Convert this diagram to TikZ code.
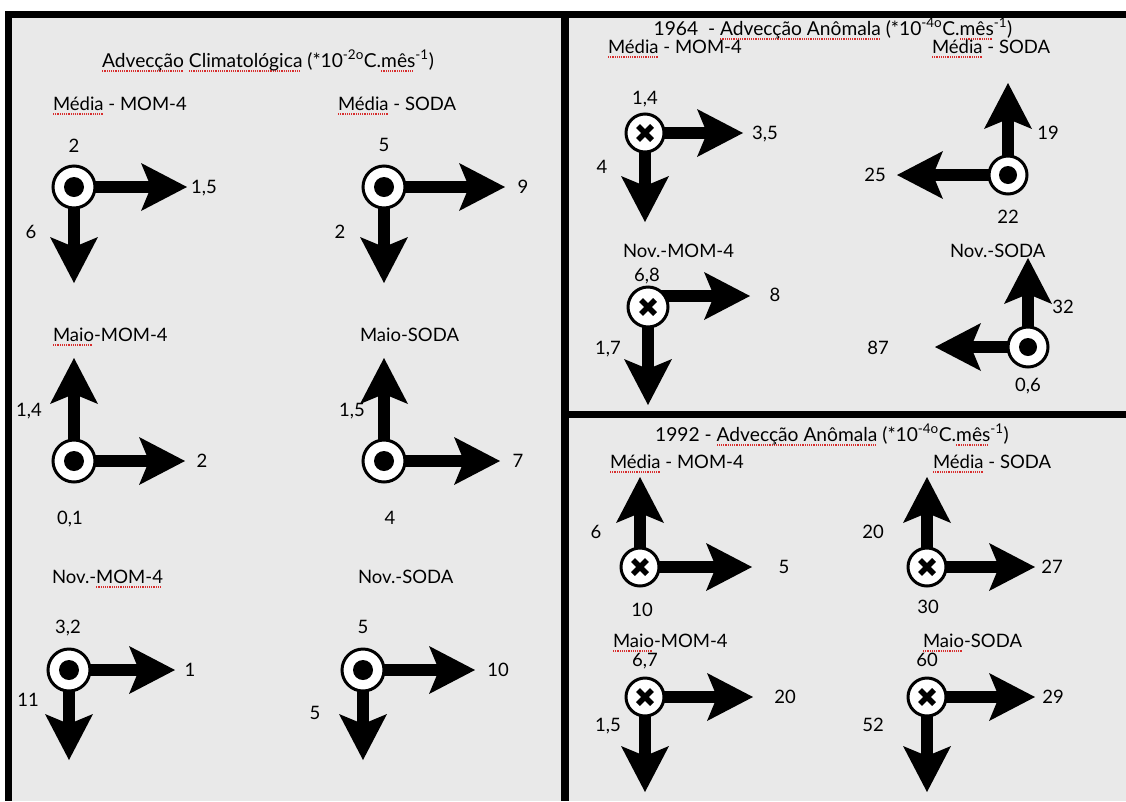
\documentclass[tikz,border=0pt]{standalone}
\usepackage{fontspec}
\setmainfont{Lato}
\usetikzlibrary{arrows.meta}
\definecolor{panel}{RGB}{233,233,233}
\definecolor{spellred}{RGB}{215,45,45}
\newsavebox\splbox
\newcommand\spl[1]{\sbox\splbox{#1}\rlap{\color{spellred}\leaders\hbox{\rule[-4.5pt]{1.2pt}{1.2pt}\kern1pt}\hskip\wd\splbox}\usebox\splbox}
\tikzset{
  lbl/.style={font=\fontsize{18.5}{20}\selectfont, inner sep=0pt, outer sep=0pt},
  ttl/.style={font=\fontsize{19.2}{21}\selectfont, inner sep=0pt, outer sep=0pt, anchor=base},
  num/.style={lbl, text height=13pt, text depth=0pt, anchor=center},
  vec/.style={line width=12pt, -{Stealth[length=46pt,width=48pt,inset=10pt,line width=0pt]}},
  ring/.style={circle, draw, line width=3pt, fill=white, inner sep=0pt},
  bigring/.style={ring, minimum size=42pt},
  smallring/.style={ring, minimum size=38pt},
  dotmark/.style={path picture={\fill[black] (path picture bounding box.center) circle (#1);}},
  xmark/.style={path picture={\draw[black, line width=5.5pt, shift={(path picture bounding box.center)}] (-7pt,-7pt) -- (7pt,7pt) (-7pt,7pt) -- (7pt,-7pt);}}
}
\begin{document}
\begin{tikzpicture}[x=1pt,y=-1pt]
\useasboundingbox (0,0) rectangle (1126,801);
% frame and panels
\fill[white] (0,0) rectangle (1126,801);
\fill[black] (5,11) rectangle (1126,801);
\fill[panel] (12,18) rectangle (561,801);
\fill[panel] (569,18) rectangle (1126,411);
\fill[panel] (569,418) rectangle (1126,801);

% ---------- left panel ----------
\node[ttl] (tL) at (268,67) {\spl{Advecção} \spl{Climatológica} (*10\textsuperscript{-2o}C.\spl{mês}\textsuperscript{-1})};
\node[lbl, anchor=base west] (hL1) at (53,110) {\spl{Média} - MOM-4};
\node[lbl, anchor=base west] (hL2) at (338,110) {\spl{Média} - SODA};
\node[lbl, anchor=base west] (hL3) at (53,341) {\spl{Maio}-MOM-4};
\node[lbl, anchor=base west] (hL4) at (360,341) {Maio-SODA};
\node[lbl, anchor=base west] (hL5) at (52,583) {Nov.-\spl{MOM-4}};
\node[lbl, anchor=base west] (hL6) at (358,583) {Nov.-SODA};

\coordinate (p1) at (74,187); \coordinate (p1e) at (187,187); \coordinate (p1s) at (74,283);
\coordinate (p2) at (384,187); \coordinate (p2e) at (505,187); \coordinate (p2s) at (384,283);
\coordinate (p3) at (74,461); \coordinate (p3n) at (74,358); \coordinate (p3e) at (185,461);
\coordinate (p4) at (384,461); \coordinate (p4n) at (384,358); \coordinate (p4e) at (500,461);
\coordinate (p5) at (69,670); \coordinate (p5e) at (175,670); \coordinate (p5s) at (69,760);
\coordinate (p6) at (363,670); \coordinate (p6e) at (475,670); \coordinate (p6s) at (363,760);

\draw[vec] (p1) -- (p1e); \draw[vec] (p1) -- (p1s);
\draw[vec] (p2) -- (p2e); \draw[vec] (p2) -- (p2s);
\draw[vec] (p3) -- (p3n); \draw[vec] (p3) -- (p3e);
\draw[vec] (p4) -- (p4n); \draw[vec] (p4) -- (p4e);
\draw[vec] (p5) -- (p5e); \draw[vec] (p5) -- (p5s);
\draw[vec] (p6) -- (p6e); \draw[vec] (p6) -- (p6s);

\node[bigring, dotmark=10pt] (c1) at (p1) {};
\node[bigring, dotmark=10pt] (c2) at (p2) {};
\node[bigring, dotmark=10pt] (c3) at (p3) {};
\node[bigring, dotmark=10pt] (c4) at (p4) {};
\node[bigring, dotmark=10pt] (c5) at (p5) {};
\node[bigring, dotmark=10pt] (c6) at (p6) {};

\node[num] (n1a) at (74,146) {2};   \node[num] (n1b) at (204,187) {1,5}; \node[num] (n1c) at (31,232) {6};
\node[num] (n2a) at (384,145) {5};  \node[num] (n2b) at (523,187) {9};   \node[num] (n2c) at (340,232) {2};
\node[num] (n3a) at (29,410) {1,4}; \node[num] (n3b) at (202,461) {2};   \node[num] (n3c) at (70,518) {0,1};
\node[num] (n4a) at (352,410) {1,5};\node[num] (n4b) at (518,461) {7};   \node[num] (n4c) at (390,518) {4};
\node[num] (n5a) at (68,627) {3,2}; \node[num] (n5b) at (190,670) {1};   \node[num] (n5c) at (28,700) {11};
\node[num] (n6a) at (363,627) {5};  \node[num] (n6b) at (498,670) {10};  \node[num] (n6c) at (315,713) {5};

% ---------- right top panel (1964) ----------
\node[ttl] (tR) at (833,35) {1964\ \ - \spl{Advecção Anômala} (*10\textsuperscript{-4o}C.\spl{mês}\textsuperscript{-1})};
\node[lbl, anchor=base west] (hR1) at (608,53) {\spl{Média} - MOM-4};
\node[lbl, anchor=base west] (hR2) at (932,53) {\spl{Média} - SODA};
\node[lbl, anchor=base west] (hR3) at (623,257) {Nov.-MOM-4};
\node[lbl, anchor=base west] (hR4) at (950,257) {Nov.-SODA};

\coordinate (q1) at (645,133); \coordinate (q1e) at (743,133); \coordinate (q1s) at (645,222);
\coordinate (q2) at (1008,175); \coordinate (q2n) at (1008,83); \coordinate (q2w) at (897,175);
\coordinate (q3) at (648,307); \coordinate (q3r) at (648,296); \coordinate (q3e) at (750,296); \coordinate (q3s) at (648,405);
\coordinate (q4) at (1028,347); \coordinate (q4n) at (1028,258); \coordinate (q4w) at (935,347);

\draw[vec] (q1) -- (q1e); \draw[vec] (q1) -- (q1s);
\draw[vec] (q2) -- (q2n); \draw[vec] (q2) -- (q2w);
\draw[vec] (q3r) -- (q3e); \draw[vec] (q3) -- (q3s);
\draw[vec] (q4) -- (q4n); \draw[vec] (q4) -- (q4w);

\node[smallring, xmark] (d1) at (q1) {};
\node[smallring, dotmark=9pt] (d2) at (q2) {};
\node[ring, minimum size=40pt, xmark] (d3) at (q3) {};
\node[ring, minimum size=40pt, dotmark=9pt] (d4) at (q4) {};

\node[num] (m1a) at (645,98) {1,4};  \node[num] (m1b) at (765,133) {3,5}; \node[num] (m1c) at (602,167) {4};
\node[num] (m2a) at (875,175) {25};  \node[num] (m2b) at (1048,133) {19}; \node[num] (m2c) at (1008,217) {22};
\node[num] (m3a) at (647,275) {6,8}; \node[num] (m3b) at (775,295) {8};   \node[num] (m3c) at (608,348) {1,7};
\node[num] (m4a) at (1063,307) {32}; \node[num] (m4b) at (878,348) {87};  \node[num] (m4c) at (1028,385) {0,6};

% ---------- right bottom panel (1992) ----------
\node[ttl] (tB) at (832,441) {1992 - \spl{Advecção Anômala} (*10\textsuperscript{-4o}C.\spl{mês}\textsuperscript{-1})};
\node[lbl, anchor=base west] (hB1) at (610,468) {\spl{Média} - MOM-4};
\node[lbl, anchor=base west] (hB2) at (933,468) {\spl{Média} - SODA};
\node[lbl, anchor=base west] (hB3) at (613,647) {\spl{Maio}-MOM-4};
\node[lbl, anchor=base west] (hB4) at (923,647) {\spl{Maio}-SODA};

\coordinate (b1) at (640,567); \coordinate (b1n) at (640,477); \coordinate (b1e) at (752,567);
\coordinate (b2) at (927,567); \coordinate (b2n) at (927,477); \coordinate (b2e) at (1035,567);
\coordinate (b3) at (645,697); \coordinate (b3e) at (753,697); \coordinate (b3s) at (645,792);
\coordinate (b4) at (927,697); \coordinate (b4e) at (1035,697); \coordinate (b4s) at (927,792);

\draw[vec] (b1) -- (b1n); \draw[vec] (b1) -- (b1e);
\draw[vec] (b2) -- (b2n); \draw[vec] (b2) -- (b2e);
\draw[vec] (b3) -- (b3e); \draw[vec] (b3) -- (b3s);
\draw[vec] (b4) -- (b4e); \draw[vec] (b4) -- (b4s);

\node[smallring, xmark] (e1) at (b1) {};
\node[smallring, xmark] (e2) at (b2) {};
\node[smallring, xmark] (e3) at (b3) {};
\node[smallring, xmark] (e4) at (b4) {};

\node[num] (k1a) at (596,532) {6};   \node[num] (k1b) at (784,567) {5};   \node[num] (k1c) at (642,610) {10};
\node[num] (k2a) at (873,532) {20};  \node[num] (k2b) at (1052,567) {27}; \node[num] (k2c) at (928,607) {30};
\node[num] (k3a) at (645,660) {6,7}; \node[num] (k3b) at (785,697) {20};  \node[num] (k3c) at (608,725) {1,5};
\node[num] (k4a) at (927,660) {60};  \node[num] (k4b) at (1053,697) {29}; \node[num] (k4c) at (873,725) {52};
\end{tikzpicture}
\end{document}
